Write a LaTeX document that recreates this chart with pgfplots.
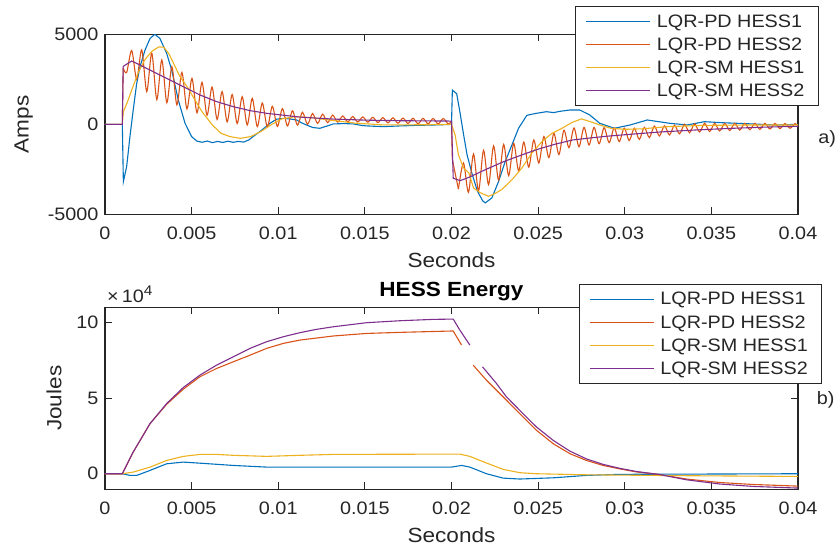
\documentclass[border=0pt]{standalone}
\usepackage{fontspec}
\setmainfont{Liberation Sans}[FakeStretch=1.1]
\usepackage{pgfplots}
\pgfplotsset{compat=1.18}
\definecolor{c1}{HTML}{0072BD}
\definecolor{c2}{HTML}{D95319}
\definecolor{c3}{HTML}{EDB120}
\definecolor{c4}{HTML}{7E2F8E}
\definecolor{ax}{HTML}{262626}
\pgfplotsset{
 mystyle/.style={
  scale only axis, width=693pt, clip mode=individual,
  xmin=0, xmax=0.04,
  xtick={0,0.005,0.01,0.015,0.02,0.025,0.03,0.035,0.04},
  xticklabels={0,0.005,0.01,0.015,0.02,0.025,0.03,0.035,0.04},
  scaled x ticks=false, scaled y ticks=false,
  tick align=inside, xtick pos=both, ytick pos=both,
  major tick length=7pt,
  axis line style={ax, line width=1.1pt},
  tick style={ax, line width=1.1pt},
  tick label style={font=\fontsize{18}{20}\selectfont, text=ax},
  xticklabel style={yshift=-9pt},
  yticklabel style={xshift=-3pt},
  label style={font=\fontsize{20.5}{24}\selectfont, text=ax},
  xlabel style={yshift=-6pt},
  ylabel style={yshift=8pt},
  /pgf/number format/assume math mode=true,
  legend cell align=left,
  legend image code/.code={\draw[##1] (0pt,0pt) -- (64pt,0pt);},
  legend style={draw=ax, line width=0.8pt, fill=white, text=ax,
     font=\fontsize{18}{20}\selectfont, inner xsep=10pt, inner ysep=4pt,
     column sep=2pt, row sep=1pt, nodes={inner sep=4pt}},
  every axis plot/.append style={line width=1.1pt},
 }
}
\begin{document}
\begin{tikzpicture}[x=1pt,y=1pt]
\useasboundingbox (0,0) rectangle (839,552);
% ---------------- top axis ----------------
\begin{axis}[mystyle, at={(105pt,337.7pt)}, anchor=south west, height=180pt,
  ymin=-5000, ymax=5000, ytick={-5000,0,5000}, yticklabels={-5000,0,5000},
  xlabel={Seconds}, ylabel={Amps},
  legend style={at={(1.03,1.157)}, anchor=north east}]
\addplot[c1] coordinates {
(0,0) (0.001,0) (0.00106,-3185) (0.00125,-2350) (0.00144,-685) (0.00163,800)
(0.00183,2275) (0.00202,3200) (0.00231,4125) (0.0026,4770) (0.00288,5000)
(0.00317,4770) (0.00356,3940) (0.00385,3015) (0.00423,1350) (0.00462,55)
(0.005,-685) (0.0053,-930) (0.0056,-1000) (0.0059,-930) (0.0062,-1020)
(0.0065,-950) (0.0068,-1010) (0.0071,-940) (0.0074,-1000) (0.0077,-950)
(0.0080,-990) (0.0083,-870) (0.00866,-600) (0.00894,-407) (0.00952,55)
(0.0099,280) (0.01029,333) (0.01065,300) (0.01106,240) (0.01135,80)
(0.01163,-37) (0.012,-180) (0.0124,-222) (0.0128,-100) (0.01317,20)
(0.0138,40) (0.01433,20) (0.0148,-60) (0.0151,-90) (0.01606,-130)
(0.01702,-90) (0.018,-60) (0.01894,-40) (0.0199,-10) (0.02,0)
(0.02005,1900) (0.0203,1700) (0.0205,600) (0.0207,-590) (0.0209,-1700)
(0.0212,-2800) (0.0215,-3720) (0.0218,-4250) (0.02195,-4365) (0.02233,-4090)
(0.02272,-3170) (0.0231,-2070) (0.02349,-1140) (0.02387,-220) (0.02435,500)
(0.0249,610) (0.02548,700) (0.0259,650) (0.02625,720) (0.02683,795)
(0.0274,795) (0.02798,518) (0.02856,55) (0.0294,-220) (0.0303,-40)
(0.0313,240) (0.0326,55) (0.0336,-37) (0.0346,145) (0.0356,90)
(0.0374,20) (0.0387,-40) (0.04,0)};
\addlegendentry{LQR-PD HESS1}
\addplot[c2] coordinates {(0,0) (0.001,0) (0.00105,3130)};
\addlegendentry{LQR-PD HESS2}
\addplot[c2, smooth, tension=0.5, forget plot] coordinates {
(0.00105,3130) (0.00125,2880) (0.00154,4100) (0.00183,2500) (0.00212,4140)
(0.00241,1820) (0.00270,3950) (0.00299,1370) (0.00328,3580) (0.00357,1200)
(0.00386,3200) (0.00415,1080) (0.00444,2880) (0.00473,850) (0.00502,2550)
(0.00531,640) (0.00560,2330) (0.00589,500) (0.00618,2070) (0.00647,270)
(0.00676,1820) (0.00705,130) (0.00734,1650) (0.00763,40) (0.00792,1530)
(0.00821,-40) (0.00850,1440) (0.00879,-130) (0.00908,1180) (0.00937,-150)
(0.00966,1000) (0.00995,-120) (0.01024,870) (0.01053,-90) (0.01082,750)
(0.01111,-45) (0.01140,670) (0.01169,0) (0.01198,600) (0.01227,50)
(0.01256,560) (0.01285,90) (0.01314,510) (0.01343,120) (0.01372,460)
(0.01401,140) (0.01430,430) (0.01459,130) (0.01488,410) (0.01517,115)
(0.01546,390) (0.01575,95) (0.01604,370) (0.01633,80) (0.01662,360)
(0.01691,60) (0.01720,345) (0.01749,45) (0.01778,335) (0.01807,30)
(0.01836,330) (0.01865,25) (0.01894,320) (0.01923,20) (0.01952,320)
(0.01981,20) (0.02,160)};
\addplot[c2, forget plot] coordinates {(0.02,160) (0.02005,-1970) (0.0204,-3600)};
\addplot[c2, smooth, tension=0.5, forget plot] coordinates {
(0.0204,-3600) (0.02069,-2150) (0.02098,-3780) (0.02127,-1650) (0.02156,-3700)
(0.02185,-1450) (0.02214,-3350) (0.02243,-1200) (0.02272,-3100) (0.02301,-1120)
(0.02330,-2850) (0.02359,-1060) (0.02388,-2600) (0.02417,-990) (0.02446,-2380)
(0.02475,-870) (0.02504,-2150) (0.02533,-680) (0.02562,-1850) (0.02591,-500)
(0.02620,-1680) (0.02649,-330) (0.02678,-1300) (0.02707,-200) (0.02736,-1250)
(0.02765,-170) (0.02794,-1150) (0.02823,-170) (0.02852,-1080) (0.02881,-190)
(0.02910,-1020) (0.02939,-200) (0.02968,-960) (0.02997,-210) (0.03026,-900)
(0.03055,-220) (0.03084,-840) (0.03113,-170) (0.03142,-740) (0.03171,-100)
(0.03200,-650) (0.03229,-80) (0.03258,-590) (0.03287,-50) (0.03316,-530)
(0.03345,0) (0.03374,-470) (0.03403,30) (0.03432,-430) (0.03461,55)
(0.03490,-400) (0.03519,55) (0.03548,-370) (0.03577,55) (0.03606,-345)
(0.03635,55) (0.03664,-320) (0.03693,55) (0.03722,-300) (0.03751,55)
(0.03780,-280) (0.03809,55) (0.03838,-260) (0.03867,50) (0.03896,-240)
(0.03925,45) (0.03954,-220) (0.03983,40) (0.04,-100)};
\addplot[c3] coordinates {
(0,0) (0.001,0) (0.00106,700) (0.0013,1250) (0.00154,1900) (0.00193,2900)
(0.00231,3600) (0.0027,4050) (0.0031,4300) (0.0034,4280) (0.0037,3900)
(0.0040,3300) (0.0043,2700) (0.0048,2000) (0.0052,1340) (0.0056,700)
(0.0062,-40) (0.0067,-500) (0.0072,-680) (0.0078,-780) (0.0084,-685)
(0.0090,-400) (0.0096,-20) (0.0102,300) (0.0110,425) (0.0120,360)
(0.0130,230) (0.0145,60) (0.0160,-30) (0.0175,-30) (0.019,-20) (0.02,0)
(0.02021,-590) (0.0204,-1700) (0.0207,-2430) (0.0210,-2700) (0.02127,-3540)
(0.02166,-3800) (0.02214,-4000) (0.0225,-3850) (0.0229,-3630) (0.02349,-3080)
(0.02406,-2430) (0.02464,-1600) (0.02522,-960) (0.0258,-500) (0.02638,-220)
(0.02695,100) (0.0275,300) (0.0280,150) (0.0286,-50) (0.0292,-220)
(0.0300,-280) (0.0310,-250) (0.0325,-130) (0.0345,-60) (0.0370,-40) (0.04,-40)};
\addlegendentry{LQR-SM HESS1}
\addplot[c4] coordinates {
(0,0) (0.001,0) (0.00105,3200) (0.0011,3250) (0.00154,3515) (0.00183,3385)
(0.0026,3015) (0.00356,2550) (0.00452,2090) (0.00548,1630) (0.00644,1260)
(0.0074,980) (0.00837,760) (0.00933,610) (0.01125,400) (0.01317,290)
(0.0151,230) (0.017,200) (0.0199,180) (0.02,180) (0.0201,-3000)
(0.0205,-3130) (0.021,-2950) (0.022,-2500) (0.023,-2080) (0.024,-1720)
(0.025,-1380) (0.026,-1100) (0.027,-870) (0.028,-760) (0.029,-660)
(0.030,-580) (0.032,-430) (0.034,-320) (0.036,-230) (0.038,-160) (0.04,-110)};
\addlegendentry{LQR-SM HESS2}
\node[font=\fontsize{18}{20}\selectfont, text=ax] at (rel axis cs:1.042,0.42) {a)};
\end{axis}
% ---------------- bottom axis ----------------
\begin{axis}[mystyle, at={(105pt,62.7pt)}, anchor=south west, height=182pt,
  ymin=-1.03, ymax=11.02, ytick={0,5,10}, yticklabels={0,5,10},
  xlabel={Seconds}, ylabel={Joules},
  title={HESS Energy},
  title style={font=\bfseries\fontsize{20.5}{24}\selectfont, text=black, yshift=-3pt},
  legend style={at={(1.035,1.128)}, anchor=north east}]
\addplot[c1] coordinates {
(0,0) (0.001,0) (0.00144,-0.11) (0.00183,-0.11) (0.0026,0.22) (0.00356,0.66)
(0.00452,0.77) (0.00548,0.70) (0.0074,0.55) (0.00933,0.44) (0.02,0.44)
(0.02058,0.55) (0.02106,0.44) (0.02202,0) (0.02298,-0.29) (0.02394,-0.35)
(0.02587,-0.27) (0.02779,-0.11) (0.02971,-0.04) (0.04,0)};
\addlegendentry{LQR-PD HESS1}
\addplot[c2] coordinates {
(0,0) (0.001,0) (0.00163,1.44) (0.0026,3.32) (0.00356,4.6) (0.00452,5.6)
(0.00548,6.42) (0.00644,6.97) (0.0074,7.41) (0.00837,7.85) (0.00933,8.30)
(0.01029,8.63) (0.01125,8.85) (0.01317,9.12) (0.0151,9.29) (0.01702,9.36)
(0.02,9.45) (0.0201,9.45) (0.02058,8.52)};
\addlegendentry{LQR-PD HESS2}
\addplot[c2, forget plot] coordinates {
(0.02125,7.19) (0.02202,6.19) (0.02298,5.09) (0.02394,3.98) (0.0249,2.88)
(0.02587,1.99) (0.02683,1.33) (0.02779,0.88) (0.02875,0.55) (0.02971,0.32)
(0.03067,0.12) (0.0320,-0.05) (0.03356,-0.35) (0.03548,-0.58) (0.0374,-0.71)
(0.04,-0.82)};
\addplot[c3] coordinates {
(0,0) (0.001,0) (0.00163,0.11) (0.0026,0.44) (0.00356,0.88) (0.00452,1.15)
(0.00548,1.28) (0.00644,1.28) (0.0074,1.22) (0.00933,1.15) (0.01125,1.22)
(0.01317,1.28) (0.02,1.30) (0.02048,1.30) (0.02106,1.15) (0.02202,0.71)
(0.02298,0.29) (0.02394,0.07) (0.0249,0) (0.02779,-0.07) (0.03356,-0.13)
(0.04,-0.18)};
\addlegendentry{LQR-SM HESS1}
\addplot[c4] coordinates {
(0,0) (0.001,0) (0.00163,1.44) (0.0026,3.32) (0.00356,4.65) (0.00452,5.71)
(0.00548,6.53) (0.00644,7.19) (0.0074,7.74) (0.00837,8.30) (0.00933,8.74)
(0.01029,9.07) (0.01125,9.34) (0.01221,9.56) (0.01317,9.73) (0.0151,10.0)
(0.01702,10.13) (0.01894,10.22) (0.0201,10.24) (0.02048,9.51) (0.02106,8.52)};
\addlegendentry{LQR-SM HESS2}
\addplot[c4, forget plot] coordinates {
(0.02179,7.08) (0.0226,5.97) (0.02317,5.09) (0.02394,4.20) (0.0249,3.10)
(0.02587,2.21) (0.02683,1.50) (0.02779,0.98) (0.02875,0.62) (0.02971,0.36)
(0.03067,0.15) (0.0320,-0.05) (0.03356,-0.40) (0.03548,-0.68) (0.0374,-0.84)
(0.04,-0.95)};
\node[font=\fontsize{18}{20}\selectfont, text=ax] at (rel axis cs:1.040,0.489) {b)};
\node[anchor=south west, inner sep=0pt, xshift=2pt, yshift=4pt, text=ax,
  font=\fontsize{18}{20}\selectfont] at (rel axis cs:0,1)
  {×\,10\raisebox{7pt}{\fontsize{14}{14}\selectfont 4}};
\end{axis}
\end{tikzpicture}
\end{document}
